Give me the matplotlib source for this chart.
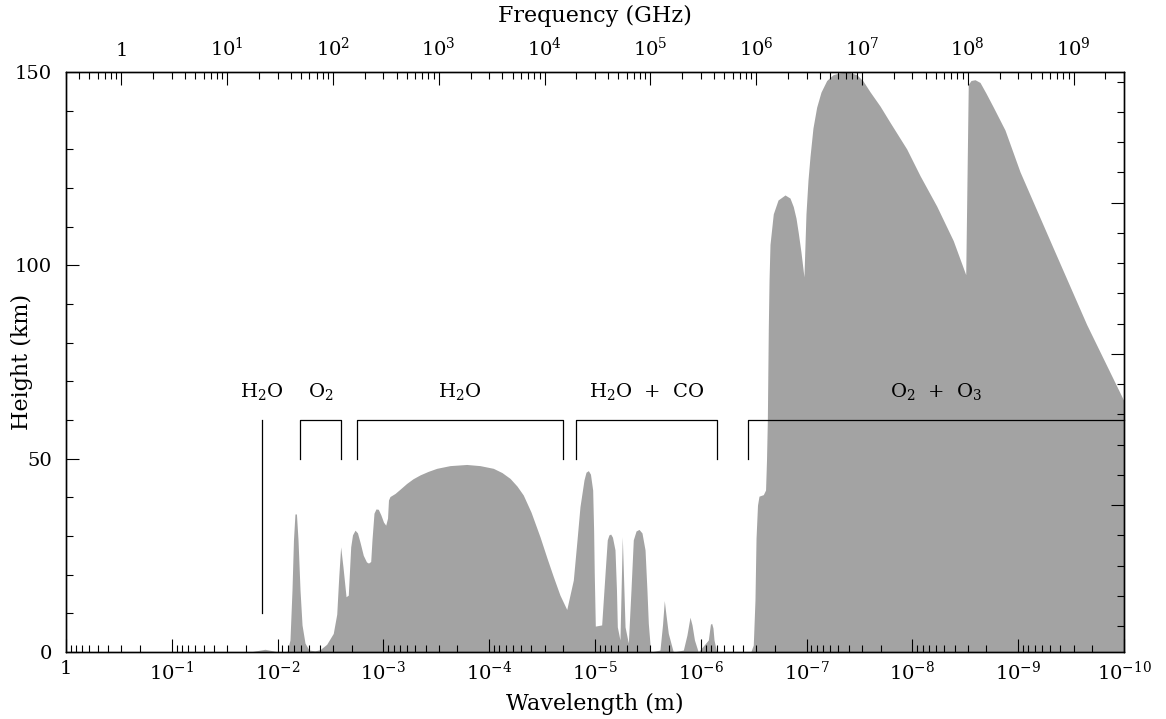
import matplotlib
matplotlib.use('Agg')
import matplotlib.pyplot as plt
from matplotlib.ticker import (LogLocator, FixedLocator, FuncFormatter,
                               MultipleLocator, NullFormatter)
import numpy as np

# log10 of wavelength (m) and the height (km) down to which radiation penetrates
log_wavelength = [
    0.000, -1.739, -1.796, -1.881, -1.957, -2.004, -2.089, -2.117, -2.136, -2.150,
    -2.164, -2.178, -2.193, -2.212, -2.231, -2.259, -2.297, -2.353, -2.401, -2.464,
    -2.526, -2.559, -2.578, -2.596, -2.618, -2.647, -2.668, -2.691, -2.708, -2.732,
    -2.755, -2.779, -2.810, -2.840, -2.859, -2.880, -2.892, -2.911, -2.930, -2.952,
    -2.977, -3.001, -3.022, -3.039, -3.048, -3.062, -3.110, -3.157, -3.220, -3.280,
    -3.346, -3.422, -3.504, -3.629, -3.787, -3.913, -4.039, -4.121, -4.197, -4.263,
    -4.322, -4.395, -4.480, -4.546, -4.606, -4.669, -4.733, -4.795, -4.830, -4.858,
    -4.896, -4.915, -4.937, -4.957, -4.978, -4.987, -4.993, -5.003, -5.063, -5.095,
    -5.116, -5.132, -5.148, -5.165, -5.189, -5.203, -5.211, -5.236, -5.258, -5.284,
    -5.315, -5.340, -5.362, -5.388, -5.416, -5.444, -5.473, -5.491, -5.504, -5.526,
    -5.614, -5.638, -5.655, -5.671, -5.693, -5.740, -5.835, -5.869, -5.898, -5.917,
    -5.940, -5.976, -6.071, -6.091, -6.103, -6.115, -6.125, -6.150, -6.472, -6.496,
    -6.512, -6.522, -6.536, -6.550, -6.591, -6.612, -6.621, -6.629, -6.638, -6.645,
    -6.654, -6.685, -6.730, -6.796, -6.843, -6.874, -6.900, -6.922, -6.947, -6.975,
    -6.994, -7.013, -7.032, -7.060, -7.095, -7.136, -7.190, -7.250, -7.316, -7.391,
    -7.474, -7.533, -7.599, -7.694, -7.788, -7.946, -8.072, -8.230, -8.386, -8.504,
    -8.528, -8.554, -8.592, -8.639, -8.696, -8.765, -8.875, -9.017, -9.332, -9.647,
    -10.000,
]
height_km = [
    0.0, 0.0, 0.3, 0.7, 0.3, 0.0, 0.0, 3.1, 16.0, 29.0,
    35.7, 35.7, 29.0, 16.0, 7.0, 2.3, 0.5, 0.3, 0.6, 2.0,
    4.8, 9.8, 19.5, 27.2, 22.0, 14.3, 14.7, 27.2, 30.3, 31.5,
    30.8, 28.4, 25.0, 23.3, 23.0, 23.4, 29.0, 35.9, 37.0, 36.9,
    35.4, 33.6, 32.8, 34.6, 39.3, 40.2, 41.0, 42.1, 43.6, 44.8,
    45.8, 46.7, 47.5, 48.2, 48.5, 48.2, 47.5, 46.4, 44.9, 42.9,
    40.6, 36.2, 29.8, 24.3, 19.5, 14.7, 11.0, 18.6, 29.0, 37.6,
    44.5, 46.5, 46.9, 46.0, 41.9, 31.5, 20.4, 6.7, 7.0, 20.4,
    29.0, 30.3, 30.5, 29.7, 26.4, 16.0, 6.5, 3.1, 29.8, 6.5,
    2.3, 16.0, 29.0, 31.3, 31.7, 30.8, 26.4, 16.0, 7.4, 0.0,
    0.5, 7.0, 13.3, 9.6, 4.8, 0.0, 0.5, 4.4, 9.0, 7.0,
    3.1, 0.0, 3.1, 7.2, 7.4, 6.2, 3.1, 0.0, 0.0, 1.8,
    13.4, 29.4, 38.0, 40.3, 40.7, 41.9, 49.6, 60.0, 83.7, 96.2,
    105.4, 113.3, 116.9, 118.2, 117.4, 115.2, 112.2, 108.3, 103.4, 97.0,
    113.3, 122.0, 128.1, 135.5, 140.9, 144.8, 147.8, 149.3, 149.8, 150.0,
    149.3, 147.7, 144.9, 141.2, 137.0, 130.1, 123.2, 115.3, 106.4, 97.6,
    146.8, 147.8, 148.0, 147.3, 144.5, 140.9, 135.0, 124.2, 104.4, 84.7,
    64.9,
]

# absorbing species and the wavelength range (m) each one blocks
band_labels = ['H$_2$O', 'O$_2$', 'H$_2$O', 'H$_2$O  +  CO', 'O$_2$  +  O$_3$']
band_long = [1.40e-2, 6.1e-3, 1.78e-3, 1.51e-5, 3.58e-7]
band_short = [1.40e-2, 2.5e-3, 2.0e-5, 7.0e-7, 1.0e-10]
band_bottom = [10, 50, 50, 50, 50]

wl_limits = (1.0, 1e-10)
height_limits = (0, 150)

plt.rcParams['font.family'] = ['DejaVu Serif']
plt.rcParams['mathtext.fontset'] = 'dejavuserif'
plt.rcParams['font.size'] = 14

fig = plt.figure(figsize=(11.66, 7.19), dpi=100)
ax = fig.add_axes([66 / 1166, 1 - 652 / 719, 1058 / 1166, 580 / 719])

wavelength = 10.0 ** np.array(log_wavelength)
ax.fill_between(wavelength, 0, height_km, color='#a3a3a3', lw=0, zorder=1)

# band brackets
for label, lo, hi, bot in zip(band_labels, band_long, band_short, band_bottom):
    if lo == hi:
        ax.plot([lo, lo], [bot, 60], color='k', lw=0.9, zorder=3)
    else:
        xs = [lo, lo, hi]
        ys = [bot, 60, 60]
        if hi > wl_limits[1]:
            xs.append(hi)
            ys.append(bot)
        ax.plot(xs, ys, color='k', lw=0.9, zorder=3, clip_on=False)
    ax.text(np.sqrt(lo * hi), 66, label, ha='center', va='baseline', fontsize=14)

ax.set_xscale('log')
ax.set_xlim(*wl_limits)
ax.set_ylim(*height_limits)


def power_label(v, pos):
    e = int(round(np.log10(v)))
    if e == 0:
        return '1'
    return r'$10^{%d}$' % e


tick_kw = dict(direction='in', width=0.8)
ax.xaxis.set_major_locator(FixedLocator(10.0 ** np.arange(-10, 1)))
ax.xaxis.set_minor_locator(LogLocator(base=10, subs=np.arange(2, 10), numticks=30))
ax.xaxis.set_major_formatter(FuncFormatter(power_label))
ax.xaxis.set_minor_formatter(NullFormatter())
ax.yaxis.set_major_locator(MultipleLocator(50))
ax.yaxis.set_minor_locator(MultipleLocator(10))
ax.tick_params(which='major', length=9.5, pad=6, top=False, right=False, **tick_kw)
ax.tick_params(which='minor', length=5, top=False, right=False, **tick_kw)
ax.tick_params(axis='y', which='major', pad=10)

# frequency axis on top
top = ax.twiny()
top.set_xscale('log')
top.set_xlim(0.3 / wl_limits[0], 0.3 / wl_limits[1])
top.xaxis.set_major_locator(FixedLocator(10.0 ** np.arange(0, 10)))
top.xaxis.set_minor_locator(LogLocator(base=10, subs=np.arange(2, 10), numticks=30))
top.xaxis.set_major_formatter(FuncFormatter(power_label))
top.xaxis.set_minor_formatter(NullFormatter())
top.tick_params(which='major', length=9.5, pad=9, **tick_kw)
top.tick_params(which='minor', length=5, **tick_kw)

# unlabelled scale on the right
right_origin_km = 77.1
right_step_km = 7.82
rgt = ax.twinx()
rgt.set_ylim((height_limits[0] - right_origin_km) / right_step_km,
             (height_limits[1] - right_origin_km) / right_step_km)
rgt.yaxis.set_major_locator(MultipleLocator(5))
rgt.yaxis.set_minor_locator(MultipleLocator(1))
rgt.yaxis.set_major_formatter(NullFormatter())
rgt.tick_params(which='major', length=9.5, **tick_kw)
rgt.tick_params(which='minor', length=5, **tick_kw)

for a in (ax, top, rgt):
    for s in a.spines.values():
        s.set_linewidth(0.9)

fig.text(595 / 1166, 1 - 16 / 719, 'Frequency (GHz)', ha='center', va='center', fontsize=16)
fig.text(595 / 1166, 1 - 704 / 719, 'Wavelength (m)', ha='center', va='center', fontsize=16)
fig.text(22 / 1166, 1 - 362 / 719, 'Height (km)', ha='center', va='center', rotation=90,
         fontsize=16)

fig.savefig('out.png', dpi=100)
